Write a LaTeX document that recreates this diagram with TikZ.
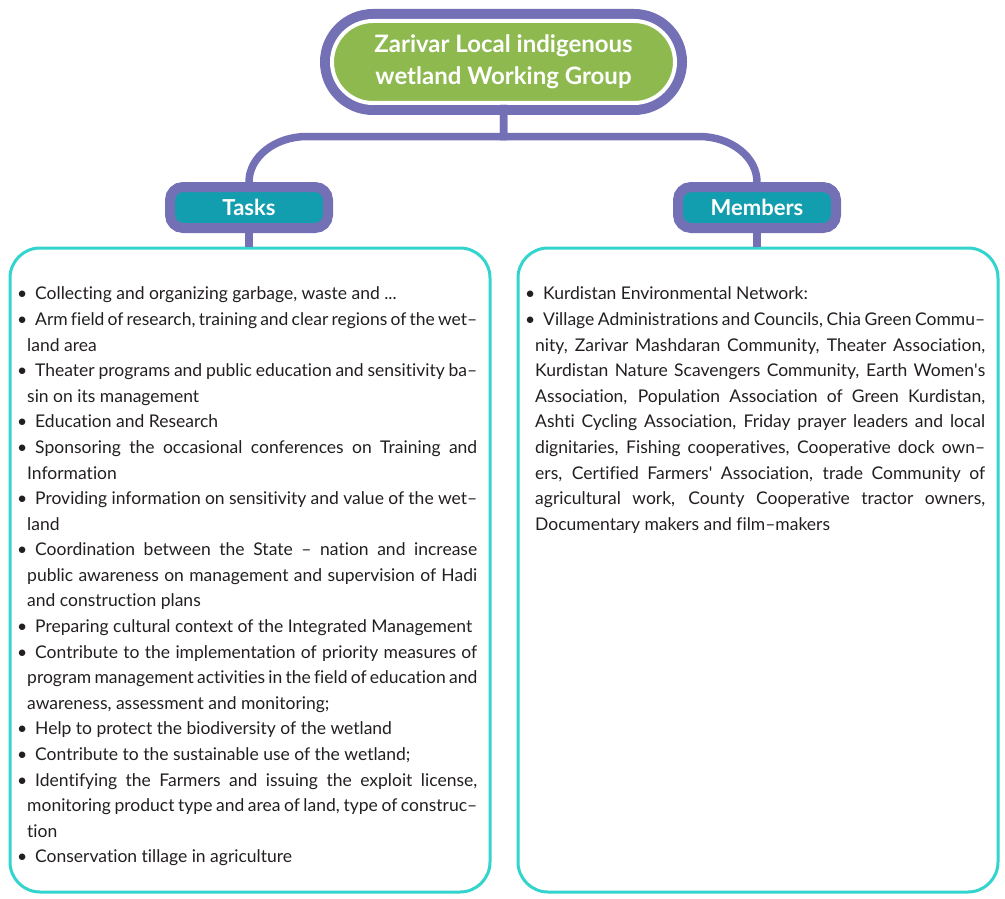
\documentclass[tikz,border=0pt]{standalone}
\usepackage{fontspec}
\setmainfont{Lato}[Ligatures={TeX,NoCommon}]
\definecolor{wgpurple}{HTML}{7470B6}
\definecolor{wggreen}{HTML}{8EB94F}
\definecolor{wgteal}{HTML}{139EAF}
\definecolor{wgcyan}{HTML}{33D4CD}
\definecolor{wgtext}{HTML}{231F20}
\newcommand\bitem{\par\noindent\hspace*{-10pt}\makebox[18pt][l]{\textbullet}}
\hbadness=10000
\hyphenpenalty=10000

\begin{document}
\begin{tikzpicture}[
x=1pt, y=-1pt,
 head/.style = {rounded corners=41pt, fill=wggreen, draw=white, line width=4pt,% top node, purple ring behind
                preaction={draw=wgpurple, line width=24pt},
                minimum width=343pt, minimum height=82pt, inner sep=0pt,
                text=white, align=center, font=\fontsize{24}{32}\selectfont\bfseries},
 branch/.style = {rounded corners=13pt, fill=wgteal, draw=wgpurple, line width=10pt,
                minimum width=158pt, minimum height=41pt, inner sep=0pt,
                text=white, font=\fontsize{22}{24}\selectfont\bfseries},
 panel/.style = {draw=wgcyan, line width=3pt, rounded corners=30pt,
                minimum width=480pt, minimum height=644pt, inner sep=0pt},
  list/.style = {anchor=north west, text width=450pt, inner sep=0pt, align=justify,
                text=wgtext, font=\fontsize{17.5}{25.6}\selectfont},
  link/.style = {draw=wgpurple, line width=7.5pt},
                        ]
\useasboundingbox (0,0) rectangle (1005,899);
\node[head] (wg) at (503.5,62) {Zarivar Local indigenous\\ wetland Working Group};
\node[branch] (tasks) at (249,207.5) {Tasks};
\node[branch] (members) at (757,207.5) {Members};
\node[panel] (taskbox) at (250,570) {};
\node[panel] (memberbox) at (758,570) {};
\coordinate (bendL) at (307,136.5);
\coordinate (bendR) at (699,136.5);
\draw[link] (wg.south) |- (bendL) .. controls +(-32,0) and +(0,-25) .. (tasks.north);
\draw[link] (wg.south) |- (bendR) .. controls +(32,0) and +(0,-25) .. (members.north);
\foreach \n/\p in {tasks/taskbox,members/memberbox}
    \draw[link] (\n.south) -- (\n.south |- \p.north);
% lists inside the panels
\node[list] (tasklist) at (27,274) {%
\bitem Collecting and organizing garbage, waste and ...
\bitem Arm field of research, training and clear regions of the wet--\linebreak land area
\bitem Theater programs and public education and sensitivity ba--\linebreak sin on its management
\bitem Education and Research
\bitem Sponsoring the occasional conferences on Training and\linebreak Information
\bitem Providing information on sensitivity and value of the wet--\linebreak land
\bitem Coordination between the State -- nation and increase\linebreak public awareness on management and supervision of Hadi\linebreak and construction plans
\bitem Preparing cultural context of the Integrated Management
\bitem Contribute to the implementation of priority measures of\linebreak program management activities in the field of education and\linebreak awareness, assessment and monitoring;
\bitem Help to protect the biodiversity of the wetland
\bitem Contribute to the sustainable use of the wetland;
\bitem Identifying the Farmers and issuing the exploit license,\linebreak monitoring product type and area of land, type of construc--\linebreak tion
\bitem Conservation tillage in agriculture};
\node[list] (memberlist) at (535,274) {%
\bitem Kurdistan Environmental Network:
\bitem Village Administrations and Councils, Chia Green Commu--\linebreak nity, Zarivar Mashdaran Community, Theater Association,\linebreak Kurdistan Nature Scavengers Community, Earth Women\textquotesingle s\linebreak Association, Population Association of Green Kurdistan,\linebreak Ashti Cycling Association, Friday prayer leaders and local\linebreak dignitaries, Fishing cooperatives, Cooperative dock own--\linebreak ers, Certified Farmers\textquotesingle{} Association, trade Community of\linebreak agricultural work, County Cooperative tractor owners,\linebreak Documentary makers and film--makers};
\end{tikzpicture}
\end{document}
